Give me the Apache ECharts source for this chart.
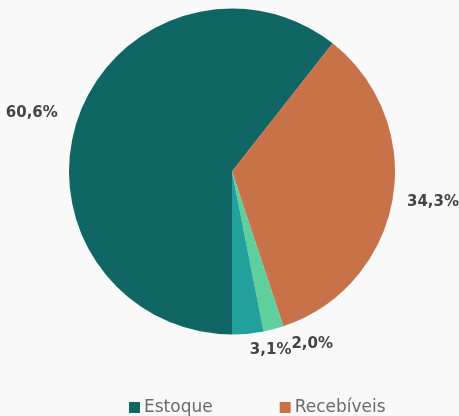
<!DOCTYPE html>
<html>
<head>
<meta charset="utf-8">
<script src="https://cdn.jsdelivr.net/npm/echarts@6/dist/echarts.min.js"></script>
<style>
  html, body { margin: 0; padding: 0; background: #f9f9f9; }
  #chart { width: 459px; height: 416px; }
</style>
</head>
<body>
<div id="chart"></div>
<script>
// dados do gráfico
const names = ['Estoque', 'Recebíveis', 'Outros', 'Caixa']
const values = [60.6, 34.3, 2.0, 3.1]
const colors = ['#106565', '#c87249', '#5fcf9d', '#22a09c']
const legendNames = ['Estoque', 'Recebíveis']

const chart = echarts.init(document.getElementById('chart'))

const pieData = names.map((n, i) => ({
  name: n,
  value: values[i],
  itemStyle: { color: colors[i] },
}))

chart.setOption({
  backgroundColor: '#f9f9f9',
  animation: false,
  legend: {
    data: legendNames,
    left: 124,
    top: 394,
    icon: 'rect',
    itemWidth: 11,
    itemHeight: 11,
    itemGap: 67,
    textStyle: {
      color: '#6b6b6b',
      fontSize: 17,
      fontFamily: 'DejaVu Sans',
      padding: [0, 0, 0, -1],
    },
  },
  series: [
    {
      type: 'pie',
      center: [232, 171.5],
      radius: [0, 163],
      startAngle: -90,
      clockwise: true,
      avoidLabelOverlap: false,
      label: {
        show: true,
        position: 'outside',
        overflow: 'none',
        formatter: (p) => p.value.toFixed(1).replace('.', ',') + '%',
        color: '#444',
        fontSize: 15,
        fontWeight: 'bold',
        fontFamily: 'DejaVu Sans',
        padding: [8, 0, 0, 0],
      },
      labelLine: { show: false, length: 16, length2: 0 },
      labelLayout: { hideOverlap: false, moveOverlap: 'shiftX' },
      emphasis: { disabled: true },
      data: pieData,
    },
  ],
})
</script>
</body>
</html>
